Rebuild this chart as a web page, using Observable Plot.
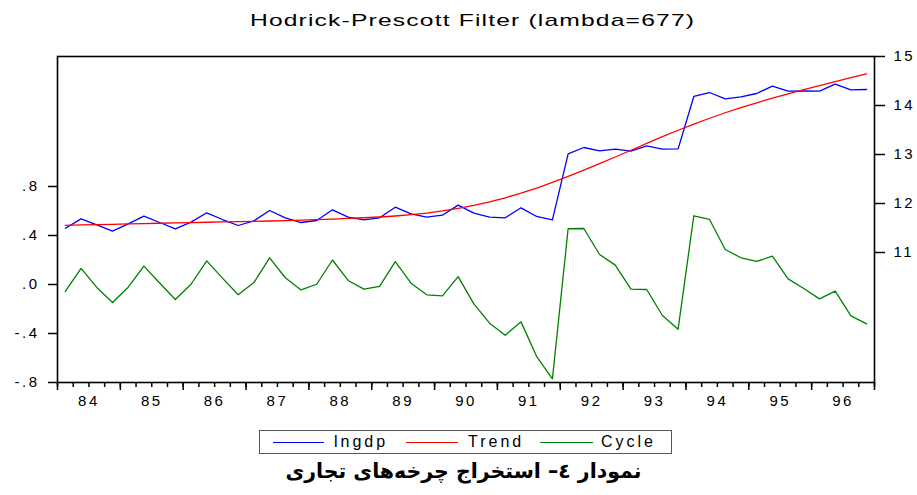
<!DOCTYPE html>
<html>
<head>
<meta charset="utf-8">
<script src="https://cdn.jsdelivr.net/npm/d3@7"></script>
<script src="https://cdn.jsdelivr.net/npm/@observablehq/plot@0.6"></script>
<style>
  html, body { margin: 0; padding: 0; background: #fff; }
  #wrap { position: relative; width: 917px; height: 495px; overflow: hidden; font-family: "Liberation Sans", Arial, sans-serif; }
  #title { position: absolute; left: 0; width: 917px; top: 11px; text-align: center; font-size: 17px; line-height: 20px; color: #000; }
  #title span { display: inline-block; transform: scaleX(1.45); letter-spacing: 0.8px; position: relative; left: 14px; }
  .layer { position: absolute; left: 0; top: 40px; }
  #legend { position: absolute; left: 259px; top: 430px; width: 411px; height: 22px; border: 1px solid #555; box-sizing: content-box; }
  .item { position: absolute; top: 0; height: 22px; font-size: 16px; line-height: 22px; letter-spacing: 3px; color: #000; }
  .swatch { position: absolute; top: 11px; height: 0; border-top: 1.3px solid; }
  #caption { position: absolute; left: 5px; width: 917px; top: 457px; text-align: center; font-family: "DejaVu Sans", sans-serif; font-weight: bold; font-size: 20.5px; line-height: 28px; direction: rtl; color: #000; }
</style>
</head>
<body>
<div id="wrap">
  <div id="title"><span>Hodrick-Prescott Filter (lambda=677)</span></div>
  <div id="chart"></div>
  <div id="legend"></div>
  <div id="caption">نمودار ٤– استخراج چرخه‌های تجاری</div>
</div>
<script>
// ---- data (quarterly, 1984Q1 .. 1996Q4) ----
const years = ["84","85","86","87","88","89","90","91","92","93","94","95","96"];
const seriesNames = ["lngdp", "Trend", "Cycle"];
const seriesColors = ["#0000ff", "#ff0000", "#008000"];

const lngdp = [
  11.496, 11.687, 11.565, 11.435, 11.585, 11.741, 11.612, 11.483,
  11.619, 11.810, 11.673, 11.551, 11.646, 11.857, 11.708, 11.612,
  11.653, 11.871, 11.721, 11.667, 11.708, 11.925, 11.789, 11.721,
  11.761, 11.966, 11.802, 11.721, 11.708, 11.912, 11.735, 11.667,
  13.014, 13.143, 13.075, 13.109, 13.068, 13.177, 13.109, 13.116,
  14.184, 14.265, 14.136, 14.177, 14.245, 14.395, 14.293, 14.299,
  14.293, 14.435, 14.320, 14.327
];
const trend = [
  11.555, 11.562, 11.569, 11.576, 11.583, 11.590, 11.597, 11.604,
  11.611, 11.617, 11.623, 11.629, 11.636, 11.643, 11.651, 11.660,
  11.670, 11.682, 11.695, 11.709, 11.724, 11.745, 11.772, 11.805,
  11.848, 11.900, 11.960, 12.033, 12.116, 12.210, 12.315, 12.430,
  12.552, 12.680, 12.813, 12.949, 13.087, 13.226, 13.363, 13.495,
  13.621, 13.740, 13.852, 13.957, 14.056, 14.150, 14.239, 14.324,
  14.405, 14.487, 14.567, 14.646
];
const cycle = [
  -0.057, 0.131, -0.024, -0.147, -0.022, 0.150, 0.012, -0.122,
  0.002, 0.193, 0.052, -0.084, 0.016, 0.218, 0.055, -0.044,
  0.002, 0.200, 0.033, -0.038, -0.015, 0.186, 0.011, -0.084,
  -0.093, 0.064, -0.158, -0.316, -0.414, -0.305, -0.588, -0.770,
  0.455, 0.457, 0.245, 0.158, -0.038, -0.041, -0.253, -0.365,
  0.561, 0.531, 0.286, 0.218, 0.188, 0.231, 0.046, -0.033,
  -0.117, -0.054, -0.256, -0.321
];
const leftTicks = [-0.8, -0.4, 0, 0.4, 0.8];
const leftTickLabels = ["-.8", "-.4", ".0", ".4", ".8"];
const rightTicks = [11, 12, 13, 14, 15];

// ---- derived tables ----
const n = lngdp.length;
const data = lngdp.map((v, i) => ({i, lngdp: v, trend: trend[i], cycle: cycle[i]}));
const quarterBounds = d3.range(n + 1).map(k => k - 0.5);
const yearBounds = quarterBounds.filter((d, k) => k % 4 === 0);
const yearCenters = years.map((y, k) => k * 4 + 1.5);

const W = 917, H = 372;
const yLeftDomain = [-0.8, 0.8 + (186 - 56) / 49 * 0.4];
const pxPerUnit = (H - 16 - 30) / (yLeftDomain[1] - yLeftDomain[0]);
const common = {
  width: W, height: H,
  marginTop: 16, marginBottom: 30, marginLeft: 57, marginRight: 43,
  style: {background: "transparent", fontSize: "15px", fontFamily: "'Liberation Sans', Arial, sans-serif", letterSpacing: "2.5px", color: "#000", overflow: "visible"}
};

const cyclePlot = Plot.plot({
  ...common,
  x: {domain: [-0.5, n - 0.5]},
  y: {domain: yLeftDomain},
  marks: [
    Plot.axisY({ticks: leftTicks, tickSize: 9, tickPadding: 9, label: null, strokeWidth: 1.5,
      tickFormat: d => leftTickLabels[leftTicks.findIndex(t => Math.abs(t - d) < 1e-9)]}),
    // minor (quarter) and major (year) tick marks below the frame
    Plot.ruleX(quarterBounds, {x: d => d, y1: yLeftDomain[0], y2: yLeftDomain[0] - 5 / pxPerUnit, stroke: "#000", strokeWidth: 1.5}),
    Plot.ruleX(yearBounds, {x: d => d, y1: yLeftDomain[0], y2: yLeftDomain[0] - 8 / pxPerUnit, stroke: "#000", strokeWidth: 1.5}),
    Plot.axisX({ticks: yearCenters, tickSize: 0, tickPadding: 13, label: null,
      tickFormat: d => years[Math.round((d - 1.5) / 4)]}),
    Plot.line(data, {x: "i", y: "cycle", stroke: seriesColors[2], strokeWidth: 1.3}),
    Plot.frame({stroke: "#000", strokeWidth: 1.6})
  ]
});

const levelPlot = Plot.plot({
  ...common,
  x: {domain: [-0.5, n - 0.5], axis: null},
  y: {domain: [15 - (382 - 56) / 49, 15], axis: null},
  marks: [
    Plot.axisY({anchor: "right", ticks: rightTicks, tickSize: 10, tickPadding: 9, label: null, strokeWidth: 1.5, tickFormat: d => String(d)}),
    Plot.line(data, {x: "i", y: "lngdp", stroke: seriesColors[0], strokeWidth: 1.3}),
    Plot.line(data, {x: "i", y: "trend", stroke: seriesColors[1], strokeWidth: 1.3})
  ]
});

cyclePlot.classList.add("layer");
levelPlot.classList.add("layer");
const chart = document.getElementById("chart");
chart.appendChild(cyclePlot);
chart.appendChild(levelPlot);

// ---- legend ----
const legend = document.getElementById("legend");
const legendLayout = [
  {sx: 13, sw: 51, tx: 74},
  {sx: 146, sw: 52, tx: 208},
  {sx: 280, sw: 53, tx: 341}
];
seriesNames.forEach((name, k) => {
  const L = legendLayout[k];
  const sw = document.createElement("div");
  sw.className = "swatch";
  sw.style.left = L.sx + "px";
  sw.style.width = L.sw + "px";
  sw.style.borderTopColor = seriesColors[k];
  legend.appendChild(sw);
  const t = document.createElement("div");
  t.className = "item";
  t.style.left = L.tx + "px";
  t.textContent = name;
  legend.appendChild(t);
});
</script>
</body>
</html>
